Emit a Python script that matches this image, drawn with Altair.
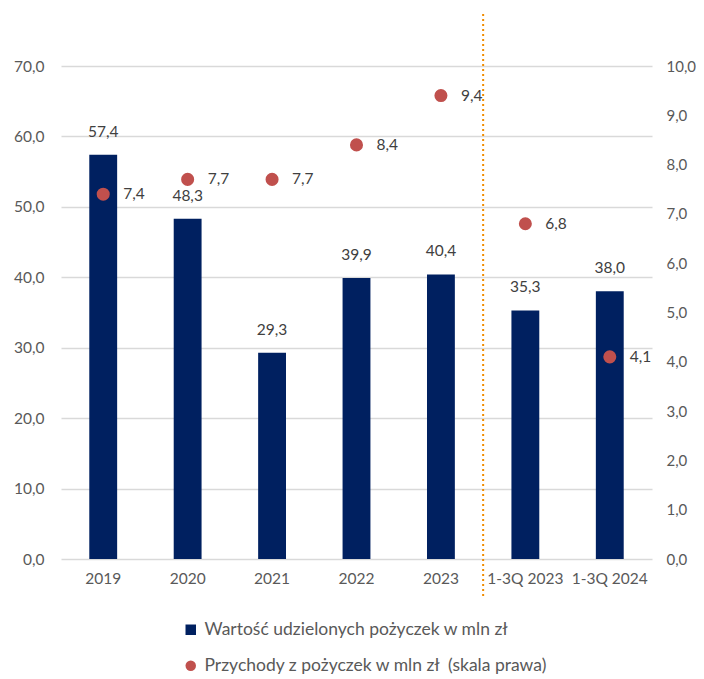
import altair as alt
import pandas as pd

cats = ["2019", "2020", "2021", "2022", "2023", "1-3Q 2023", "1-3Q 2024"]
loans = [57.4, 48.3, 29.3, 39.9, 40.4, 35.3, 38.0]
revenue = [7.4, 7.7, 7.7, 8.4, 9.4, 6.8, 4.1]
s1 = "Wartość udzielonych pożyczek w mln zł"
s2 = "Przychody z pożyczek w mln zł\u00a0 (skala prawa)"
left_ticks = [0, 10, 20, 30, 40, 50, 60, 70]
right_ticks = [0, 1, 2, 3, 4, 5, 6, 7, 8, 9, 10]
split_at = "1-3Q 2023"

NAVY = "#002060"
RED = "#C0504D"
GRAY = "#595959"
FONT = "Lato"
FS = 15.5
LFS = 17.5

df = pd.DataFrame({"cat": cats, "loans": loans, "rev": revenue, "s1": s1, "s2": s2})

xenc = alt.X("cat:N", sort=cats, title=None,
             scale=alt.Scale(paddingInner=0, paddingOuter=0),
             axis=alt.Axis(labelAngle=0, labelPadding=12, domain=False, ticks=False, grid=False))

comma = "replace(format(datum.value, '.1f'), '.', ',')"

def legend():
    return alt.Legend(title=None, orient="none", legendX=121, legendY=555,
                      direction="vertical", rowPadding=17, symbolSize=110,
                      labelFont=FONT, labelFontSize=LFS, labelColor=GRAY,
                      labelOffset=5, symbolStrokeWidth=0, labelLimit=0)

color = alt.Color("series:N", scale=alt.Scale(domain=[s1, s2], range=[NAVY, RED]),
                  legend=legend())
shape = alt.Shape("series:N", scale=alt.Scale(domain=[s1, s2], range=["square", "circle"]),
                  legend=legend())

base = alt.Chart(df)

yl = alt.Y("loans:Q", title=None,
           scale=alt.Scale(domain=[0, 70], nice=False),
           axis=alt.Axis(values=left_ticks, labelExpr=comma, grid=True, gridColor="#D9D9D9",
                         gridWidth=1.5, domain=False, ticks=False, labelPadding=17))

bars = base.transform_calculate(series="datum.s1").mark_bar(
    width=alt.RelativeBandSize(0.33)).encode(x=xenc, y=yl, color=color)
bar_text = base.transform_calculate(
    lbl="replace(format(datum.loans, '.1f'), '.', ',')").mark_text(
    baseline="middle", dy=-23, font=FONT, fontSize=FS, color="#404040").encode(
    x=xenc, y=alt.Y("loans:Q"), text="lbl:N")
left = alt.layer(bars, bar_text)

yr = alt.Y("rev:Q", title=None,
           scale=alt.Scale(domain=[0, 10], nice=False),
           axis=alt.Axis(orient="right", values=right_ticks, labelExpr=comma, grid=False,
                         domain=False, ticks=False, labelPadding=14, labelFontSize=15))

points = base.transform_calculate(series="datum.s2").mark_point(
    filled=True, size=170, opacity=1).encode(x=xenc, y=yr, color=color, shape=shape)
pt_text = base.transform_calculate(
    lbl="replace(format(datum.rev, '.1f'), '.', ',')").mark_text(
    align="left", baseline="middle", dx=20, font=FONT, fontSize=FS, color="#404040").encode(
    x=xenc, y=alt.Y("rev:Q"), text="lbl:N")
right = alt.layer(points, pt_text)

rule = alt.Chart(pd.DataFrame({"cat": [split_at]})).mark_rule(
    color="#F08C00", strokeDash=[2, 3], strokeWidth=2).encode(
    x=alt.X("cat:N", sort=cats, bandPosition=0),
    y=alt.value(-52), y2=alt.value(532))

chart = alt.layer(left, right, rule).resolve_scale(y="independent").properties(
    width=591, height=493,
    autosize=alt.AutoSizeParams(type="none"),
    padding={"left": 53, "top": 58, "right": 44, "bottom": 118},
).configure_view(stroke=None).configure_axis(
    labelFont=FONT, labelFontSize=FS, labelColor=GRAY
)

chart.save("out.html", embed_options={"renderer": "svg", "actions": False})
